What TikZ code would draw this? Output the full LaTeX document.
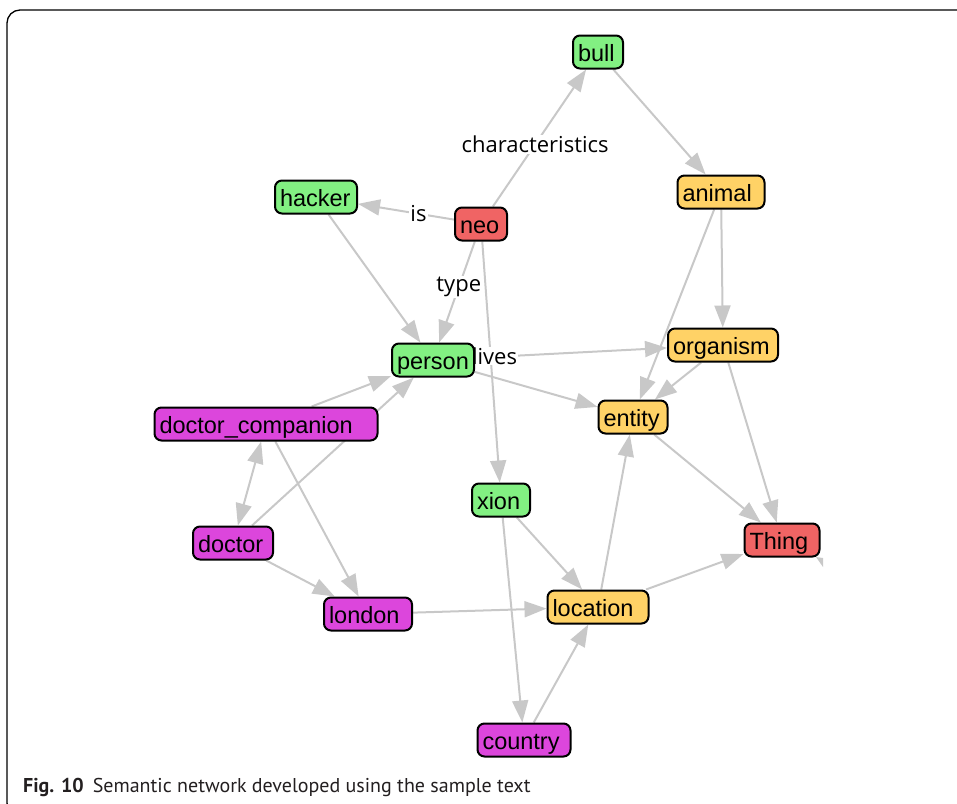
\documentclass[tikz,border=0pt]{standalone}
\usepackage{fontspec}
\setmainfont{Liberation Sans}
\newfontfamily\labelfont{Open Sans}
\newfontfamily\capfont{PT Sans}
\usetikzlibrary{arrows.meta,backgrounds}

\definecolor{edgegray}{RGB}{200,200,200}
\definecolor{ngreen}{RGB}{130,240,130}
\definecolor{nred}{RGB}{240,100,100}
\definecolor{norange}{RGB}{255,210,102}
\definecolor{nmagenta}{RGB}{220,70,220}
\definecolor{captext}{RGB}{35,31,32}

\begin{document}
\begin{tikzpicture}[x=1pt,y=-1pt,
  concept/.style={draw=black, line width=2pt, rounded corners=7pt,
    font=\fontsize{23.5}{26}\selectfont, inner xsep=5pt, inner ysep=0pt,
    minimum height=33pt, align=left, text height=23pt, text depth=4pt},
  green/.style={concept, fill=ngreen},
  red/.style={concept, fill=nred},
  orange/.style={concept, fill=norange},
  magenta/.style={concept, fill=nmagenta},
  link/.style={draw=edgegray, line width=2pt, -{Triangle[length=22pt,width=16pt]}},
  bilink/.style={draw=edgegray, line width=2pt, {Triangle[length=22pt,width=16pt]}-{Triangle[length=22pt,width=16pt]}},
  rel/.style={fill=white, inner sep=1pt, text=black,
    font=\labelfont\fontsize{22}{24}\selectfont},
]
\useasboundingbox (0,0) rectangle (957,803);

% outer frame
\draw[line width=1.3pt, rounded corners=13pt] (960,10) -- (7,10) -- (7,816) -- (40,816);

% concepts
\node[green,   text width=40pt]  (bull)     at (598,52)  {bull};
\node[green,   text width=72pt]  (hacker)   at (316,197) {hacker};
\node[red,     text width=42pt]  (neo)      at (481,224) {neo};
\node[orange,  text width=77pt]  (animal)   at (721,192) {animal};
\node[orange,  text width=100pt] (organism) at (723,345) {organism};
\node[green,   text width=72pt]  (person)   at (433,360) {person};
\node[orange,  text width=59pt]  (entity)   at (633,417) {entity};
\node[magenta, text width=213pt] (dcomp)    at (266,424) {doctor\_companion};
\node[green,   text width=48pt]  (xion)     at (501,500) {xion};
\node[red,     text width=65pt]  (thing)    at (782,540) {Thing};
\node[magenta, text width=70pt]  (doctor)   at (233,543) {doctor};
\node[magenta, text width=78pt]  (london)   at (368,614) {london};
\node[orange,  text width=91pt]  (location) at (598,607) {location};
\node[magenta, text width=83pt]  (country)  at (524,740) {country};

\begin{pgfonlayer}{background}
  % unlabelled relations
  \draw[link] (hacker) -- (person);
  \draw[link] (bull) -- (animal);
  \draw[link] (animal) -- (organism);
  \draw[link] (animal) -- (entity);
  \draw[link] (organism) -- (entity);
  \draw[link] (organism) -- (thing);
  \draw[link] (person) -- (organism);
  \draw[link] (person) -- (entity);
  \draw[link] (dcomp) -- (person);
  \draw[link] (doctor) -- (person);
  \draw[bilink] (dcomp) -- (doctor);
  \draw[link] (dcomp) -- (london);
  \draw[link] (doctor) -- (london);
  \draw[link] (london) -- (location);
  \draw[link] (xion) -- (location);
  \draw[link] (xion) -- (country);
  \draw[link] (country) -- (location);
  \draw[link] (location) -- (entity);
  \draw[link] (location) -- (thing);
  \draw[link] (entity) -- (thing);
  % arrow tip entering from beyond the right edge
  \fill[edgegray] (816,557) -- (823,558) -- (823,567) -- cycle;
  % labelled relations of neo
  \draw[link] (neo) -- node[rel, pos=0.453] (lchar) {characteristics} (bull);
  \draw[link] (neo) -- node[rel, pos=0.37] (lis) {is} (hacker);
  \draw[link] (neo) -- node[rel, pos=0.45] (ltype) {type} (person);
  \draw[link] (neo) -- node[rel, pos=0.475, xshift=4pt] (llives) {lives} (xion);
\end{pgfonlayer}

% caption
\node[anchor=base west, inner sep=0pt, text=captext,
  font=\capfont\fontsize{20}{24}\selectfont] (caption) at (23,792)
  {\textbf{Fig. 10}\hspace{9pt}Semantic network developed using the sample text};
\end{tikzpicture}
\end{document}
